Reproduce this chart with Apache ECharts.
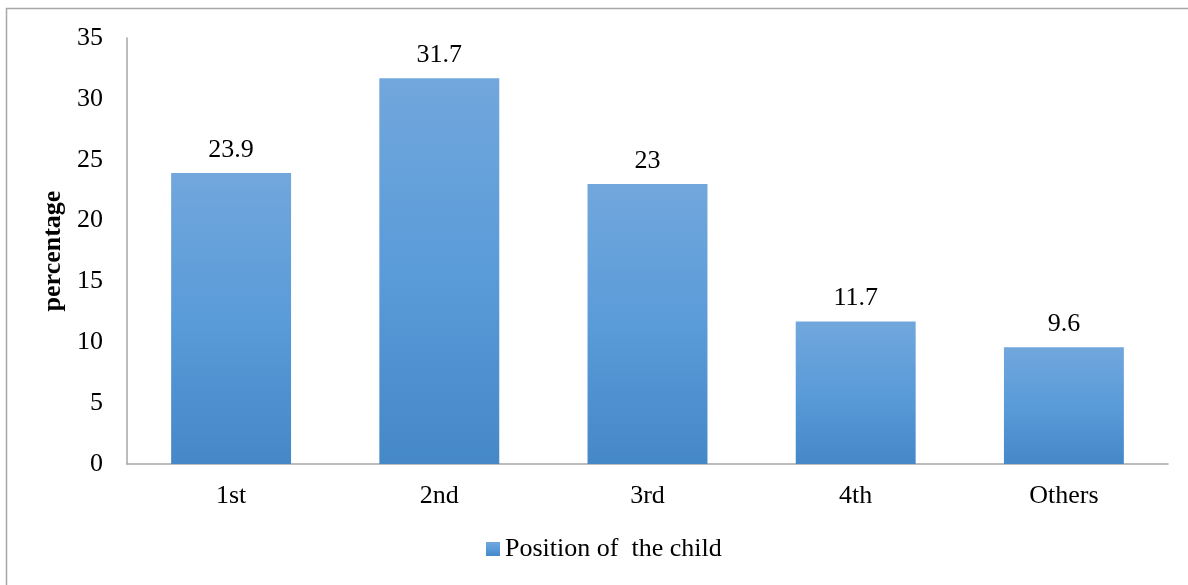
<!DOCTYPE html>
<html>
<head>
<meta charset="utf-8">
<script src="https://cdn.jsdelivr.net/npm/echarts@6/dist/echarts.min.js"></script>
<style>
  html, body { margin: 0; padding: 0; background: #fff; }
  #chart { width: 1188px; height: 585px; }
</style>
</head>
<body>
<div id="chart"></div>
<script>
// Birth order of the child, in percent
const categories = ['1st', '2nd', '3rd', '4th', 'Others'];
const percentages = [23.9, 31.7, 23, 11.7, 9.6];
const seriesName = 'Position of  the child';
const yTicks = { min: 0, max: 35, interval: 5 };

const FONT = '"Liberation Serif", "Times New Roman", serif';

const barFill = new echarts.graphic.LinearGradient(0, 0, 0, 1, [
  { offset: 0, color: '#71a7dc' },
  { offset: 0.5, color: '#5a9bd9' },
  { offset: 1, color: '#4588c8' }
]);

const chart = echarts.init(document.getElementById('chart'), null, { renderer: 'canvas' });

chart.setOption({
  backgroundColor: '#ffffff',
  animation: false,
  graphic: [{
    type: 'rect',
    shape: { x: 6.5, y: 8.5, width: 1200, height: 600 },
    style: { fill: 'none', stroke: '#a6a6a6', lineWidth: 1.5 },
    silent: true
  }],
  grid: { left: 127, right: 20, top: 38, bottom: 121, containLabel: false },
  legend: {
    data: [seriesName],
    left: 486,
    top: 536,
    padding: 0,
    itemWidth: 14,
    itemHeight: 14,
    itemGap: 10,
    icon: 'rect',
    textStyle: { fontFamily: FONT, fontSize: 26, color: '#000' }
  },
  xAxis: {
    type: 'category',
    data: categories,
    axisLine: { lineStyle: { color: '#a6a6a6', width: 1.5 } },
    axisTick: { show: false },
    axisLabel: { fontFamily: FONT, fontSize: 26, color: '#000', margin: 19 },
    splitLine: { show: false }
  },
  yAxis: {
    type: 'value',
    min: yTicks.min,
    max: yTicks.max,
    interval: yTicks.interval,
    name: 'percentage',
    nameLocation: 'middle',
    nameGap: 55,
    nameRotate: 90,
    nameTextStyle: { fontFamily: FONT, fontSize: 26, fontWeight: 'bold', color: '#000' },
    axisLine: { show: true, lineStyle: { color: '#a6a6a6', width: 1.5 } },
    axisTick: { show: false },
    axisLabel: { fontFamily: FONT, fontSize: 26, color: '#000', margin: 24 },
    splitLine: { show: false }
  },
  series: [{
    name: seriesName,
    type: 'bar',
    data: percentages,
    barWidth: '57.6%',
    itemStyle: { color: barFill },
    label: {
      show: true,
      position: 'top',
      distance: 10,
      fontFamily: FONT,
      fontSize: 26,
      color: '#000'
    }
  }]
});
</script>
</body>
</html>
